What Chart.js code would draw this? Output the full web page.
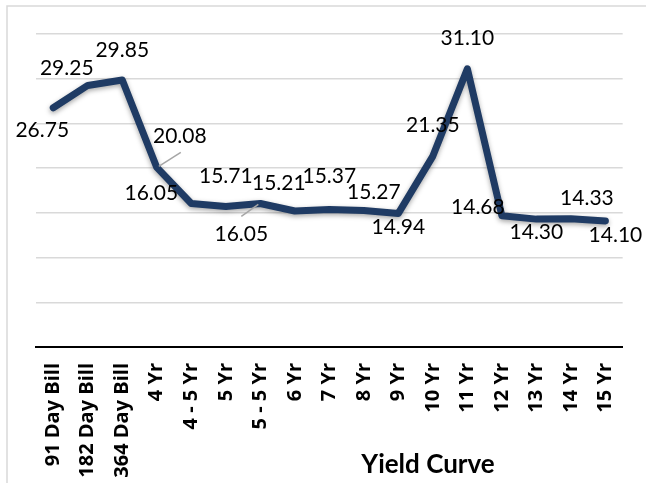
<!DOCTYPE html>
<html>
<head>
<meta charset="utf-8">
<script src="https://cdn.jsdelivr.net/npm/chart.js@4"></script>
<style>
  html, body { margin: 0; padding: 0; background: #fff; overflow: hidden; }
  #wrap { position: absolute; left: 0; top: 0; width: 646px; height: 510px; }
</style>
</head>
<body>
<div id="wrap"><canvas id="yieldChart"></canvas></div>
<script>
// categories and yields
const tenors = ['91 Day Bill', '182 Day Bill', '364 Day Bill', '4 Yr', '4 - 5 Yr', '5 Yr', '5 - 5 Yr',
  '6 Yr', '7 Yr', '8 Yr', '9 Yr', '10 Yr', '11 Yr', '12 Yr', '13 Yr', '14 Yr', '15 Yr'];
const yields = [26.75, 29.25, 29.85, 20.08, 16.05, 15.71, 16.05, 15.21, 15.37, 15.27, 14.94,
  21.35, 31.10, 14.68, 14.30, 14.33, 14.10];
const yTicks = [0, 5, 10, 15, 20, 25, 30, 35];

// where each value label sits relative to its point (px)
const labelOffsets = [[-11, 22], [-21, -17], [0, -30], [23, -31], [-40, -10], [0, -30], [-19, 31],
  [-16, -28], [0, -33], [10, -18], [0, 14], [0, -31], [0, -31], [-24, -8], [0, 13], [16, -21], [10, 14]];
const leaders = { 3: [24, -15], 6: [-19, 13] };

const FONT = 'Lato, "Open Sans", sans-serif';

// soft shadow under the line
const shadowPlugin = {
  id: 'lineShadow',
  beforeDatasetDraw: (chart) => {
    const c = chart.ctx;
    c.save();
    c.shadowColor = 'rgba(0,0,0,0.35)';
    c.shadowBlur = 5;
    c.shadowOffsetY = 2;
  },
  afterDatasetDraw: (chart) => chart.ctx.restore()
};

const labelsPlugin = {
  id: 'valueLabels',
  afterDatasetsDraw: (chart) => {
    const c = chart.ctx;
    const pts = chart.getDatasetMeta(0).data;
    c.save();
    // leader lines
    c.strokeStyle = '#a6a6a6';
    c.lineWidth = 1.5;
    Object.keys(leaders).forEach(k => {
      const p = pts[k], l = leaders[k];
      c.beginPath();
      c.moveTo(p.x + Math.sign(l[0]) * 2, p.y + Math.sign(l[1]) * 1);
      c.lineTo(p.x + l[0], p.y + l[1]);
      c.stroke();
    });
    c.fillStyle = '#000';
    c.font = '21px ' + FONT;
    c.textAlign = 'center';
    c.textBaseline = 'middle';
    pts.forEach((p, i) => {
      const o = labelOffsets[i];
      c.fillText(yields[i].toFixed(2), p.x + o[0], p.y + o[1]);
    });
    c.restore();
  }
};

const framePlugin = {
  id: 'frame',
  beforeDraw: (chart) => {
    const c = chart.ctx;
    c.save();
    c.strokeStyle = '#d9d9d9';
    c.lineWidth = 1.5;
    c.beginPath();
    c.moveTo(7, 600);
    c.lineTo(7, 6);
    c.lineTo(700, 6);
    c.stroke();
    c.restore();
  },
  afterDraw: (chart) => {
    const c = chart.ctx;
    c.save();
    c.fillStyle = '#000';
    c.font = 'bold 26px ' + FONT;
    c.textAlign = 'center';
    c.textBaseline = 'alphabetic';
    c.fillText('Yield Curve', 428, 473);
    c.restore();
  }
};

new Chart(document.getElementById('yieldChart'), {
  type: 'line',
  data: {
    labels: tenors,
    datasets: [{
      data: yields,
      borderColor: '#1f3b64',
      borderWidth: 7,
      borderCapStyle: 'round',
      borderJoinStyle: 'round',
      pointRadius: 0,
      tension: 0,
      fill: false
    }]
  },
  options: {
    responsive: true,
    maintainAspectRatio: false,
    animation: false,
    layout: { padding: { top: 34, right: 20, left: 0, bottom: 0 } },
    plugins: { legend: { display: false }, tooltip: { enabled: false }, title: { display: false } },
    scales: {
      x: {
        offset: true,
        grid: { display: false, drawTicks: false, offset: true },
        border: { display: true, color: '#000', width: 2 },
        ticks: {
          autoSkip: false,
          minRotation: 90,
          maxRotation: 90,
          padding: 16,
          color: '#000',
          font: { family: '"Open Sans", sans-serif', size: 20, weight: 'bold' }
        },
        afterFit: (s) => { s.height = 163; }
      },
      y: {
        min: yTicks[0],
        max: yTicks[yTicks.length - 1],
        afterBuildTicks: (s) => { s.ticks = yTicks.map(v => ({ value: v })); },
        grid: { color: '#d9d9d9', lineWidth: 1.5, drawTicks: false },
        border: { display: false },
        ticks: { display: false },
        afterFit: (s) => { s.width = 36; }
      }
    }
  },
  plugins: [shadowPlugin, labelsPlugin, framePlugin]
});
</script>
</body>
</html>
